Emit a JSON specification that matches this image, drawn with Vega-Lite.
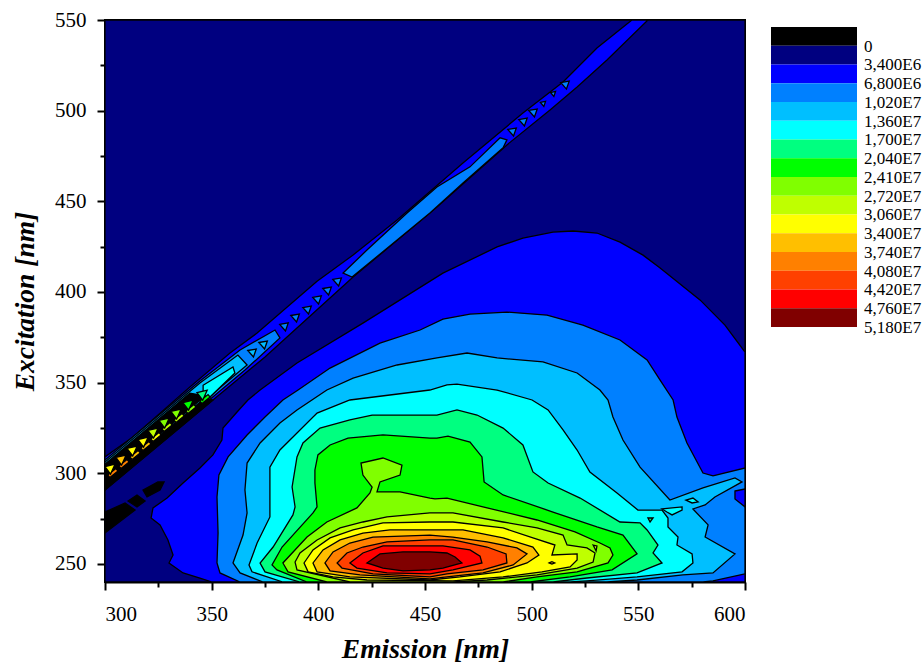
{"$schema":"https://vega.github.io/schema/vega-lite/v6.json","background":"white","padding":{"left":10,"top":8,"right":0,"bottom":0},"bounds":"flush","spacing":26,"config":{"font":"Liberation Serif","view":{"continuousWidth":640}},"hconcat":[{"width":640,"height":562,"view":{"stroke":"#000","strokeWidth":2,"fill":null},"data":{"values":[
{"p":0,"level":"3,400E6","em":300,"ex":240},{"p":0,"level":"3,400E6","em":600,"ex":240},{"p":0,"level":"3,400E6","em":600,"ex":550},{"p":0,"level":"3,400E6","em":300,"ex":550},
{"p":1,"level":"6,800E6","em":350.2,"ex":240},{"p":1,"level":"6,800E6","em":344.5,"ex":242.2},{"p":1,"level":"6,800E6","em":336.6,"ex":245},{"p":1,"level":"6,800E6","em":330,"ex":250.5},{"p":1,"level":"6,800E6","em":331.9,"ex":254.9},{"p":1,"level":"6,800E6","em":329.5,"ex":263.2},{"p":1,"level":"6,800E6","em":325.8,"ex":271.5},{"p":1,"level":"6,800E6","em":321.6,"ex":275.3},{"p":1,"level":"6,800E6","em":322.5,"ex":280.9},{"p":1,"level":"6,800E6","em":329.1,"ex":286.3},{"p":1,"level":"6,800E6","em":336.6,"ex":294.6},{"p":1,"level":"6,800E6","em":344.5,"ex":302.9},{"p":1,"level":"6,800E6","em":350.6,"ex":310.1},{"p":1,"level":"6,800E6","em":354.8,"ex":318.3},{"p":1,"level":"6,800E6","em":355.3,"ex":324.9},{"p":1,"level":"6,800E6","em":361.9,"ex":333.8},{"p":1,"level":"6,800E6","em":367,"ex":340.4},{"p":1,"level":"6,800E6","em":372.7,"ex":345.9},{"p":1,"level":"6,800E6","em":390,"ex":360.8},{"p":1,"level":"6,800E6","em":420.9,"ex":382.8},{"p":1,"level":"6,800E6","em":458.4,"ex":410.4},{"p":1,"level":"6,800E6","em":483.8,"ex":424.8},{"p":1,"level":"6,800E6","em":495.9,"ex":429.7},{"p":1,"level":"6,800E6","em":510,"ex":433},{"p":1,"level":"6,800E6","em":519.4,"ex":433.6},{"p":1,"level":"6,800E6","em":530.6,"ex":432.5},{"p":1,"level":"6,800E6","em":541.4,"ex":427.5},{"p":1,"level":"6,800E6","em":552.2,"ex":420.3},{"p":1,"level":"6,800E6","em":560.2,"ex":413.2},{"p":1,"level":"6,800E6","em":578.9,"ex":395.6},{"p":1,"level":"6,800E6","em":590.6,"ex":381.7},{"p":1,"level":"6,800E6","em":600,"ex":366.8},{"p":1,"level":"6,800E6","em":600,"ex":240},
{"p":2,"level":"6,800E6","em":300,"ex":290.8},{"p":2,"level":"6,800E6","em":350.6,"ex":340.4},{"p":2,"level":"6,800E6","em":375,"ex":364.1},{"p":2,"level":"6,800E6","em":416.3,"ex":408.2},{"p":2,"level":"6,800E6","em":455.6,"ex":446.8},{"p":2,"level":"6,800E6","em":488.4,"ex":481.1},{"p":2,"level":"6,800E6","em":508.6,"ex":500.4},{"p":2,"level":"6,800E6","em":521.3,"ex":513},{"p":2,"level":"6,800E6","em":535.3,"ex":527.9},{"p":2,"level":"6,800E6","em":554.5,"ex":550},{"p":2,"level":"6,800E6","em":547,"ex":550},{"p":2,"level":"6,800E6","em":530.6,"ex":534.6},{"p":2,"level":"6,800E6","em":514.7,"ex":515.8},{"p":2,"level":"6,800E6","em":495.9,"ex":498.7},{"p":2,"level":"6,800E6","em":467.8,"ex":471.1},{"p":2,"level":"6,800E6","em":436.9,"ex":439.7},{"p":2,"level":"6,800E6","em":416.3,"ex":420.4},{"p":2,"level":"6,800E6","em":399.4,"ex":405.9},{"p":2,"level":"6,800E6","em":371.3,"ex":377.3},{"p":2,"level":"6,800E6","em":358.6,"ex":366.3},{"p":2,"level":"6,800E6","em":339.8,"ex":347.6},{"p":2,"level":"6,800E6","em":313.1,"ex":320},{"p":2,"level":"6,800E6","em":300,"ex":309},
{"p":3,"level":"1,020E7","em":411.6,"ex":410.4},{"p":3,"level":"1,020E7","em":422.8,"ex":423.1},{"p":3,"level":"1,020E7","em":441.6,"ex":443.5},{"p":3,"level":"1,020E7","em":455.6,"ex":457.9},{"p":3,"level":"1,020E7","em":471.1,"ex":469},{"p":3,"level":"1,020E7","em":485.2,"ex":485},{"p":3,"level":"1,020E7","em":488.4,"ex":483.9},{"p":3,"level":"1,020E7","em":486.6,"ex":479.5},{"p":3,"level":"1,020E7","em":467.8,"ex":460.1},{"p":3,"level":"1,020E7","em":452.3,"ex":443.5},{"p":3,"level":"1,020E7","em":415.8,"ex":408.2},
{"p":4,"level":"1,020E7","em":513.6,"ex":515.5},{"p":4,"level":"1,020E7","em":517.6,"ex":516.3},{"p":4,"level":"1,020E7","em":516.3,"ex":511.9},
{"p":5,"level":"1,020E7","em":508.8,"ex":510},{"p":5,"level":"1,020E7","em":511.2,"ex":510.6},{"p":5,"level":"1,020E7","em":510.4,"ex":507.8},
{"p":6,"level":"1,020E7","em":504.1,"ex":504.5},{"p":6,"level":"1,020E7","em":506.5,"ex":505.1},{"p":6,"level":"1,020E7","em":505.7,"ex":502.3},
{"p":7,"level":"1,020E7","em":498.6,"ex":500.1},{"p":7,"level":"1,020E7","em":502.6,"ex":500.9},{"p":7,"level":"1,020E7","em":501.3,"ex":496.5},
{"p":8,"level":"1,020E7","em":493.9,"ex":495.1},{"p":8,"level":"1,020E7","em":497.9,"ex":495.9},{"p":8,"level":"1,020E7","em":496.6,"ex":491.5},
{"p":9,"level":"1,020E7","em":488.8,"ex":489.6},{"p":9,"level":"1,020E7","em":492.8,"ex":490.4},{"p":9,"level":"1,020E7","em":491.5,"ex":486},
{"p":10,"level":"1,020E7","em":406.8,"ex":406.9},{"p":10,"level":"1,020E7","em":410.8,"ex":407.7},{"p":10,"level":"1,020E7","em":409.5,"ex":403.3},
{"p":11,"level":"1,020E7","em":402.1,"ex":401.9},{"p":11,"level":"1,020E7","em":406.1,"ex":402.7},{"p":11,"level":"1,020E7","em":404.8,"ex":398.3},
{"p":12,"level":"1,020E7","em":397.4,"ex":397},{"p":12,"level":"1,020E7","em":401.4,"ex":397.8},{"p":12,"level":"1,020E7","em":400.1,"ex":393.4},
{"p":13,"level":"1,020E7","em":392.7,"ex":391.4},{"p":13,"level":"1,020E7","em":396.7,"ex":392.2},{"p":13,"level":"1,020E7","em":395.4,"ex":387.8},
{"p":14,"level":"1,020E7","em":387.1,"ex":387},{"p":14,"level":"1,020E7","em":391.1,"ex":387.8},{"p":14,"level":"1,020E7","em":389.8,"ex":383.4},
{"p":15,"level":"1,020E7","em":381.9,"ex":382.1},{"p":15,"level":"1,020E7","em":385.9,"ex":382.9},{"p":15,"level":"1,020E7","em":384.6,"ex":378.5},
{"p":16,"level":"1,020E7","em":300,"ex":307.3},{"p":16,"level":"1,020E7","em":344.5,"ex":350.9},{"p":16,"level":"1,020E7","em":363.3,"ex":368},{"p":16,"level":"1,020E7","em":379.7,"ex":379},{"p":16,"level":"1,020E7","em":382,"ex":374.6},{"p":16,"level":"1,020E7","em":365.6,"ex":356.9},{"p":16,"level":"1,020E7","em":344.5,"ex":336.1},{"p":16,"level":"1,020E7","em":300,"ex":292.4},
{"p":17,"level":"1,360E7","em":372.1,"ex":372.1},{"p":17,"level":"1,360E7","em":376.1,"ex":372.9},{"p":17,"level":"1,360E7","em":374.8,"ex":368.5},
{"p":18,"level":"1,360E7","em":366.9,"ex":367.7},{"p":18,"level":"1,360E7","em":370.9,"ex":368.5},{"p":18,"level":"1,360E7","em":369.6,"ex":364.1},
{"p":19,"level":"1,360E7","em":300,"ex":306.2},{"p":19,"level":"1,360E7","em":344.5,"ex":349.8},{"p":19,"level":"1,360E7","em":362.3,"ex":365.2},{"p":19,"level":"1,360E7","em":366.6,"ex":359.7},{"p":19,"level":"1,360E7","em":349.2,"ex":342.6},{"p":19,"level":"1,360E7","em":344.5,"ex":337.6},{"p":19,"level":"1,360E7","em":300,"ex":293.5},
{"p":20,"level":"1,700E7","em":346,"ex":348.5},{"p":20,"level":"1,700E7","em":360,"ex":358.6},{"p":20,"level":"1,700E7","em":360.9,"ex":355.3},{"p":20,"level":"1,700E7","em":349.2,"ex":342},{"p":20,"level":"1,700E7","em":346,"ex":341},
{"p":21,"level":"0","em":300,"ex":305},{"p":21,"level":"0","em":339.8,"ex":344.2},{"p":21,"level":"0","em":346.9,"ex":342.6},{"p":21,"level":"0","em":300,"ex":295.7},
{"p":22,"level":"0","em":300,"ex":290.8},{"p":22,"level":"0","em":350.6,"ex":340.4},{"p":22,"level":"0","em":346.9,"ex":341.5},{"p":22,"level":"0","em":300,"ex":295.7},
{"p":60,"level":"4,080E7","em":301.3,"ex":299},{"p":60,"level":"4,080E7","em":305.1,"ex":302.6},{"p":60,"level":"4,080E7","em":306.1,"ex":301.2},{"p":60,"level":"4,080E7","em":302.3,"ex":297.6},
{"p":61,"level":"4,080E7","em":306.5,"ex":304},{"p":61,"level":"4,080E7","em":310.3,"ex":307.6},{"p":61,"level":"4,080E7","em":311.3,"ex":306.2},{"p":61,"level":"4,080E7","em":307.5,"ex":302.6},
{"p":62,"level":"3,740E7","em":311.7,"ex":309},{"p":62,"level":"3,740E7","em":315.5,"ex":312.6},{"p":62,"level":"3,740E7","em":316.5,"ex":311.2},{"p":62,"level":"3,740E7","em":312.7,"ex":307.6},
{"p":63,"level":"3,740E7","em":316.8,"ex":313.9},{"p":63,"level":"3,740E7","em":320.6,"ex":317.5},{"p":63,"level":"3,740E7","em":321.6,"ex":316.1},{"p":63,"level":"3,740E7","em":317.8,"ex":312.5},
{"p":64,"level":"3,400E7","em":321.5,"ex":318.9},{"p":64,"level":"3,400E7","em":325.3,"ex":322.5},{"p":64,"level":"3,400E7","em":326.3,"ex":321.1},{"p":64,"level":"3,400E7","em":322.5,"ex":317.5},
{"p":65,"level":"3,060E7","em":326.7,"ex":324.4},{"p":65,"level":"3,060E7","em":330.5,"ex":328},{"p":65,"level":"3,060E7","em":331.5,"ex":326.6},{"p":65,"level":"3,060E7","em":327.7,"ex":323},
{"p":66,"level":"3,060E7","em":332.3,"ex":329.4},{"p":66,"level":"3,060E7","em":336.1,"ex":333},{"p":66,"level":"3,060E7","em":337.1,"ex":331.6},{"p":66,"level":"3,060E7","em":333.3,"ex":328},
{"p":67,"level":"2,720E7","em":337.9,"ex":334.3},{"p":67,"level":"2,720E7","em":341.7,"ex":337.9},{"p":67,"level":"2,720E7","em":342.7,"ex":336.5},{"p":67,"level":"2,720E7","em":338.9,"ex":332.9},
{"p":68,"level":"2,410E7","em":344.5,"ex":339.8},{"p":68,"level":"2,410E7","em":348.3,"ex":343.4},{"p":68,"level":"2,410E7","em":349.3,"ex":342},{"p":68,"level":"2,410E7","em":345.5,"ex":338.4},
{"p":23,"level":"3,400E7","em":300,"ex":303.7},{"p":23,"level":"3,400E7","em":304.7,"ex":305},{"p":23,"level":"3,400E7","em":302.6,"ex":299.5},
{"p":24,"level":"3,740E7","em":305.1,"ex":308.7},{"p":24,"level":"3,740E7","em":309.9,"ex":310},{"p":24,"level":"3,740E7","em":307.8,"ex":304.5},
{"p":25,"level":"3,400E7","em":310.3,"ex":313.7},{"p":25,"level":"3,400E7","em":315.1,"ex":315},{"p":25,"level":"3,400E7","em":313,"ex":309.5},
{"p":26,"level":"3,400E7","em":315.4,"ex":318.6},{"p":26,"level":"3,400E7","em":320.2,"ex":319.9},{"p":26,"level":"3,400E7","em":318.1,"ex":314.4},
{"p":27,"level":"3,060E7","em":320.1,"ex":323.6},{"p":27,"level":"3,060E7","em":324.9,"ex":324.9},{"p":27,"level":"3,060E7","em":322.8,"ex":319.4},
{"p":28,"level":"2,720E7","em":325.3,"ex":329.1},{"p":28,"level":"2,720E7","em":330.1,"ex":330.4},{"p":28,"level":"2,720E7","em":328,"ex":324.9},
{"p":29,"level":"2,720E7","em":330.9,"ex":334.1},{"p":29,"level":"2,720E7","em":335.7,"ex":335.4},{"p":29,"level":"2,720E7","em":333.6,"ex":329.9},
{"p":30,"level":"2,410E7","em":336.5,"ex":339},{"p":30,"level":"2,410E7","em":341.3,"ex":340.3},{"p":30,"level":"2,410E7","em":339.2,"ex":334.8},
{"p":31,"level":"2,040E7","em":343.1,"ex":344.5},{"p":31,"level":"2,040E7","em":347.9,"ex":345.8},{"p":31,"level":"2,040E7","em":345.8,"ex":340.3},
{"p":32,"level":"0","em":300,"ex":278.6},{"p":32,"level":"0","em":309.4,"ex":283.6},{"p":32,"level":"0","em":314.1,"ex":279.7},{"p":32,"level":"0","em":300,"ex":267},
{"p":33,"level":"0","em":310.8,"ex":284.7},{"p":33,"level":"0","em":315,"ex":288},{"p":33,"level":"0","em":318.8,"ex":284.7},{"p":33,"level":"0","em":315,"ex":281.4},
{"p":34,"level":"0","em":317.8,"ex":290.7},{"p":34,"level":"0","em":324.8,"ex":295.2},{"p":34,"level":"0","em":327.7,"ex":295.2},{"p":34,"level":"0","em":325.8,"ex":290.7},{"p":34,"level":"0","em":319.7,"ex":286.9},
{"p":35,"level":"1,020E7","em":363.3,"ex":240},{"p":35,"level":"1,020E7","em":353.9,"ex":245},{"p":35,"level":"1,020E7","em":352.5,"ex":250.5},{"p":35,"level":"1,020E7","em":353,"ex":267},{"p":35,"level":"1,020E7","em":352.5,"ex":286.9},{"p":35,"level":"1,020E7","em":353.4,"ex":299},{"p":35,"level":"1,020E7","em":357.7,"ex":309},{"p":35,"level":"1,020E7","em":366.6,"ex":321.1},{"p":35,"level":"1,020E7","em":375,"ex":331},{"p":35,"level":"1,020E7","em":383.4,"ex":340.4},{"p":35,"level":"1,020E7","em":390.5,"ex":345.9},{"p":35,"level":"1,020E7","em":405.5,"ex":358},{"p":35,"level":"1,020E7","em":428.9,"ex":371.8},{"p":35,"level":"1,020E7","em":447.7,"ex":379},{"p":35,"level":"1,020E7","em":458.4,"ex":385},{"p":35,"level":"1,020E7","em":471.1,"ex":387.8},{"p":35,"level":"1,020E7","em":488.4,"ex":388.9},{"p":35,"level":"1,020E7","em":507.2,"ex":387.2},{"p":35,"level":"1,020E7","em":524,"ex":381.7},{"p":35,"level":"1,020E7","em":541.4,"ex":373.5},{"p":35,"level":"1,020E7","em":554.1,"ex":362.5},{"p":35,"level":"1,020E7","em":560.2,"ex":351.4},{"p":35,"level":"1,020E7","em":566.3,"ex":340.4},{"p":35,"level":"1,020E7","em":568.1,"ex":331},{"p":35,"level":"1,020E7","em":572.8,"ex":316.7},{"p":35,"level":"1,020E7","em":580.3,"ex":300.1},{"p":35,"level":"1,020E7","em":585,"ex":298.5},{"p":35,"level":"1,020E7","em":600,"ex":302.9},{"p":35,"level":"1,020E7","em":600,"ex":244.5},{"p":35,"level":"1,020E7","em":585,"ex":240.6},{"p":35,"level":"1,020E7","em":580.3,"ex":240},
{"p":36,"level":"6,800E6","em":595.3,"ex":290.2},{"p":36,"level":"6,800E6","em":600,"ex":291.3},{"p":36,"level":"6,800E6","em":600,"ex":281.4},{"p":36,"level":"6,800E6","em":595.3,"ex":285.8},
{"p":37,"level":"1,360E7","em":374.1,"ex":240},{"p":37,"level":"1,360E7","em":363.3,"ex":245},{"p":37,"level":"1,360E7","em":360,"ex":250.5},{"p":37,"level":"1,360E7","em":364.7,"ex":265.9},{"p":37,"level":"1,360E7","em":366.6,"ex":278.1},{"p":37,"level":"1,360E7","em":365.6,"ex":290.8},{"p":37,"level":"1,360E7","em":366.6,"ex":305.6},{"p":37,"level":"1,360E7","em":372.7,"ex":316.7},{"p":37,"level":"1,360E7","em":382,"ex":327.7},{"p":37,"level":"1,360E7","em":390,"ex":334.9},{"p":37,"level":"1,360E7","em":397,"ex":340.4},{"p":37,"level":"1,360E7","em":404,"ex":345.9},{"p":37,"level":"1,360E7","em":416.3,"ex":352.5},{"p":37,"level":"1,360E7","em":436.9,"ex":359.7},{"p":37,"level":"1,360E7","em":455.6,"ex":363.6},{"p":37,"level":"1,360E7","em":469.7,"ex":366.3},{"p":37,"level":"1,360E7","em":483.8,"ex":363.6},{"p":37,"level":"1,360E7","em":505.3,"ex":361.4},{"p":37,"level":"1,360E7","em":521.3,"ex":355.3},{"p":37,"level":"1,360E7","em":532,"ex":345.9},{"p":37,"level":"1,360E7","em":535.8,"ex":340.4},{"p":37,"level":"1,360E7","em":538.1,"ex":331},{"p":37,"level":"1,360E7","em":542.8,"ex":318.3},{"p":37,"level":"1,360E7","em":550.8,"ex":303.4},{"p":37,"level":"1,360E7","em":564.8,"ex":285.2},{"p":37,"level":"1,360E7","em":580.3,"ex":291.9},{"p":37,"level":"1,360E7","em":595.3,"ex":297.4},{"p":37,"level":"1,360E7","em":598.6,"ex":295.2},{"p":37,"level":"1,360E7","em":585.9,"ex":286.9},{"p":37,"level":"1,360E7","em":581.3,"ex":282.5},{"p":37,"level":"1,360E7","em":575.6,"ex":280.3},{"p":37,"level":"1,360E7","em":582.7,"ex":271.5},{"p":37,"level":"1,360E7","em":581.3,"ex":264.8},{"p":37,"level":"1,360E7","em":595.3,"ex":255.5},{"p":37,"level":"1,360E7","em":585,"ex":245},{"p":37,"level":"1,360E7","em":570.9,"ex":243.9},{"p":37,"level":"1,360E7","em":549.4,"ex":241.1},{"p":37,"level":"1,360E7","em":535.3,"ex":240},
{"p":38,"level":"1,700E7","em":383.4,"ex":240},{"p":38,"level":"1,700E7","em":368.9,"ex":245.6},{"p":38,"level":"1,700E7","em":367.5,"ex":249.4},{"p":38,"level":"1,700E7","em":371.3,"ex":261.5},{"p":38,"level":"1,700E7","em":377.3,"ex":275.9},{"p":38,"level":"1,700E7","em":377.3,"ex":290.8},{"p":38,"level":"1,700E7","em":377.3,"ex":303.4},{"p":38,"level":"1,700E7","em":382,"ex":312.8},{"p":38,"level":"1,700E7","em":390,"ex":322.2},{"p":38,"level":"1,700E7","em":399.4,"ex":333.2},{"p":38,"level":"1,700E7","em":414.8,"ex":340.4},{"p":38,"level":"1,700E7","em":452.3,"ex":345.9},{"p":38,"level":"1,700E7","em":460.3,"ex":348.7},{"p":38,"level":"1,700E7","em":465,"ex":349.2},{"p":38,"level":"1,700E7","em":483.8,"ex":345.9},{"p":38,"level":"1,700E7","em":500.2,"ex":340.4},{"p":38,"level":"1,700E7","em":507.7,"ex":334.9},{"p":38,"level":"1,700E7","em":514.7,"ex":323.9},{"p":38,"level":"1,700E7","em":521.3,"ex":312.8},{"p":38,"level":"1,700E7","em":527.3,"ex":300.7},{"p":38,"level":"1,700E7","em":540,"ex":289.1},{"p":38,"level":"1,700E7","em":549.8,"ex":279.7},{"p":38,"level":"1,700E7","em":561.1,"ex":279.7},{"p":38,"level":"1,700E7","em":563.9,"ex":275.3},{"p":38,"level":"1,700E7","em":563.9,"ex":270.4},{"p":38,"level":"1,700E7","em":568.6,"ex":264.8},{"p":38,"level":"1,700E7","em":568.1,"ex":260.4},{"p":38,"level":"1,700E7","em":575.2,"ex":255.5},{"p":38,"level":"1,700E7","em":575.6,"ex":250.5},{"p":38,"level":"1,700E7","em":570.5,"ex":245.6},{"p":38,"level":"1,700E7","em":549.4,"ex":242.8},{"p":38,"level":"1,700E7","em":525.9,"ex":240.6},{"p":38,"level":"1,700E7","em":518,"ex":240},
{"p":39,"level":"1,700E7","em":561.1,"ex":280.3},{"p":39,"level":"1,700E7","em":570.5,"ex":281.4},{"p":39,"level":"1,700E7","em":570.5,"ex":279.7},{"p":39,"level":"1,700E7","em":565.8,"ex":277},{"p":39,"level":"1,700E7","em":563.4,"ex":278.6},
{"p":40,"level":"1,700E7","em":572.3,"ex":285.2},{"p":40,"level":"1,700E7","em":575.6,"ex":286.3},{"p":40,"level":"1,700E7","em":578,"ex":284.2},{"p":40,"level":"1,700E7","em":575.2,"ex":283.6},
{"p":41,"level":"2,040E7","em":391.4,"ex":240},{"p":41,"level":"2,040E7","em":375,"ex":245.6},{"p":41,"level":"2,040E7","em":372.7,"ex":250.5},{"p":41,"level":"2,040E7","em":378.8,"ex":259.3},{"p":41,"level":"2,040E7","em":388.1,"ex":277},{"p":41,"level":"2,040E7","em":389.1,"ex":281.4},{"p":41,"level":"2,040E7","em":387.7,"ex":292.4},{"p":41,"level":"2,040E7","em":390,"ex":309},{"p":41,"level":"2,040E7","em":392.8,"ex":316.7},{"p":41,"level":"2,040E7","em":400.8,"ex":324.9},{"p":41,"level":"2,040E7","em":414.8,"ex":329.4},{"p":41,"level":"2,040E7","em":425.2,"ex":332.1},{"p":41,"level":"2,040E7","em":452.3,"ex":332.1},{"p":41,"level":"2,040E7","em":455.6,"ex":332.1},{"p":41,"level":"2,040E7","em":465,"ex":334.9},{"p":41,"level":"2,040E7","em":474.4,"ex":332.1},{"p":41,"level":"2,040E7","em":486.6,"ex":324.9},{"p":41,"level":"2,040E7","em":495.9,"ex":315.6},{"p":41,"level":"2,040E7","em":500.6,"ex":300.7},{"p":41,"level":"2,040E7","em":507.7,"ex":294.6},{"p":41,"level":"2,040E7","em":522.7,"ex":286.3},{"p":41,"level":"2,040E7","em":541.4,"ex":273.1},{"p":41,"level":"2,040E7","em":550.8,"ex":272.6},{"p":41,"level":"2,040E7","em":554.1,"ex":268.7},{"p":41,"level":"2,040E7","em":559.2,"ex":260.4},{"p":41,"level":"2,040E7","em":556.9,"ex":256},{"p":41,"level":"2,040E7","em":561.1,"ex":250.5},{"p":41,"level":"2,040E7","em":549.4,"ex":245},{"p":41,"level":"2,040E7","em":525.9,"ex":242.2},{"p":41,"level":"2,040E7","em":510,"ex":240},
{"p":42,"level":"2,040E7","em":554.5,"ex":275.3},{"p":42,"level":"2,040E7","em":556.9,"ex":275.3},{"p":42,"level":"2,040E7","em":555.5,"ex":273.1},
{"p":43,"level":"2,410E7","em":394.7,"ex":240},{"p":43,"level":"2,410E7","em":380.6,"ex":246.7},{"p":43,"level":"2,410E7","em":378.3,"ex":249.4},{"p":43,"level":"2,410E7","em":383,"ex":259.3},{"p":43,"level":"2,410E7","em":397.5,"ex":278.1},{"p":43,"level":"2,410E7","em":399.4,"ex":281.4},{"p":43,"level":"2,410E7","em":398.4,"ex":294.6},{"p":43,"level":"2,410E7","em":398.4,"ex":301.8},{"p":43,"level":"2,410E7","em":399.8,"ex":310.1},{"p":43,"level":"2,410E7","em":405.5,"ex":315.6},{"p":43,"level":"2,410E7","em":413.9,"ex":319.4},{"p":43,"level":"2,410E7","em":430.3,"ex":321.1},{"p":43,"level":"2,410E7","em":452.3,"ex":319.4},{"p":43,"level":"2,410E7","em":455.6,"ex":319.4},{"p":43,"level":"2,410E7","em":460.8,"ex":320.5},{"p":43,"level":"2,410E7","em":471.1,"ex":317.2},{"p":43,"level":"2,410E7","em":476.7,"ex":309},{"p":43,"level":"2,410E7","em":477.7,"ex":295.2},{"p":43,"level":"2,410E7","em":486.6,"ex":288},{"p":43,"level":"2,410E7","em":510,"ex":278.6},{"p":43,"level":"2,410E7","em":530.6,"ex":270.4},{"p":43,"level":"2,410E7","em":542.8,"ex":265.9},{"p":43,"level":"2,410E7","em":549.4,"ex":255.5},{"p":43,"level":"2,410E7","em":537.7,"ex":246.7},{"p":43,"level":"2,410E7","em":518,"ex":242.8},{"p":43,"level":"2,410E7","em":499.2,"ex":240},
{"p":44,"level":"2,720E7","em":404,"ex":240},{"p":44,"level":"2,720E7","em":385.8,"ex":245.6},{"p":44,"level":"2,720E7","em":383.4,"ex":250.5},{"p":44,"level":"2,720E7","em":394.7,"ex":264.8},{"p":44,"level":"2,720E7","em":404,"ex":273.1},{"p":44,"level":"2,720E7","em":418.1,"ex":280.9},{"p":44,"level":"2,720E7","em":424.2,"ex":289.1},{"p":44,"level":"2,720E7","em":425.2,"ex":292.4},{"p":44,"level":"2,720E7","em":420.9,"ex":299},{"p":44,"level":"2,720E7","em":420,"ex":305.6},{"p":44,"level":"2,720E7","em":430.3,"ex":308.4},{"p":44,"level":"2,720E7","em":439.2,"ex":304.5},{"p":44,"level":"2,720E7","em":438.3,"ex":299},{"p":44,"level":"2,720E7","em":428.9,"ex":295.2},{"p":44,"level":"2,720E7","em":427.5,"ex":289.7},{"p":44,"level":"2,720E7","em":438.3,"ex":289.7},{"p":44,"level":"2,720E7","em":452.3,"ex":286.3},{"p":44,"level":"2,720E7","em":454.7,"ex":285.8},{"p":44,"level":"2,720E7","em":460.3,"ex":286.3},{"p":44,"level":"2,720E7","em":479.1,"ex":280.9},{"p":44,"level":"2,720E7","em":502.5,"ex":274.2},{"p":44,"level":"2,720E7","em":520.3,"ex":267.6},{"p":44,"level":"2,720E7","em":532,"ex":261.5},{"p":44,"level":"2,720E7","em":536.7,"ex":258.8},{"p":44,"level":"2,720E7","em":538.1,"ex":254.9},{"p":44,"level":"2,720E7","em":535.8,"ex":250.5},{"p":44,"level":"2,720E7","em":521.3,"ex":245.6},{"p":44,"level":"2,720E7","em":502.5,"ex":242.8},{"p":44,"level":"2,720E7","em":486.6,"ex":240},
{"p":45,"level":"3,060E7","em":414.8,"ex":240},{"p":45,"level":"3,060E7","em":390,"ex":246.7},{"p":45,"level":"3,060E7","em":389.1,"ex":251},{"p":45,"level":"3,060E7","em":391.4,"ex":256},{"p":45,"level":"3,060E7","em":399.4,"ex":263.2},{"p":45,"level":"3,060E7","em":410.2,"ex":269.8},{"p":45,"level":"3,060E7","em":420.9,"ex":273.1},{"p":45,"level":"3,060E7","em":432.2,"ex":275.9},{"p":45,"level":"3,060E7","em":452.3,"ex":278.1},{"p":45,"level":"3,060E7","em":463.1,"ex":278.1},{"p":45,"level":"3,060E7","em":486.6,"ex":273.1},{"p":45,"level":"3,060E7","em":502.5,"ex":269.8},{"p":45,"level":"3,060E7","em":514.7,"ex":265.9},{"p":45,"level":"3,060E7","em":516.6,"ex":260.4},{"p":45,"level":"3,060E7","em":525.9,"ex":258.8},{"p":45,"level":"3,060E7","em":529.7,"ex":256},{"p":45,"level":"3,060E7","em":528.8,"ex":251},{"p":45,"level":"3,060E7","em":521.3,"ex":247.7},{"p":45,"level":"3,060E7","em":502.5,"ex":243.9},{"p":45,"level":"3,060E7","em":479.1,"ex":241.1},{"p":45,"level":"3,060E7","em":463.1,"ex":240},
{"p":46,"level":"3,060E7","em":528.8,"ex":260.4},{"p":46,"level":"3,060E7","em":530.6,"ex":259.9},{"p":46,"level":"3,060E7","em":530.2,"ex":257.1},
{"p":47,"level":"3,400E7","em":422.8,"ex":241.1},{"p":47,"level":"3,400E7","em":406.9,"ex":242.8},{"p":47,"level":"3,400E7","em":395.2,"ex":245.6},{"p":47,"level":"3,400E7","em":393.3,"ex":250.5},{"p":47,"level":"3,400E7","em":397.5,"ex":257.7},{"p":47,"level":"3,400E7","em":405.5,"ex":264.3},{"p":47,"level":"3,400E7","em":416.3,"ex":268.7},{"p":47,"level":"3,400E7","em":430.3,"ex":272.6},{"p":47,"level":"3,400E7","em":452.3,"ex":273.1},{"p":47,"level":"3,400E7","em":463.1,"ex":273.1},{"p":47,"level":"3,400E7","em":486.6,"ex":269.8},{"p":47,"level":"3,400E7","em":500.6,"ex":264.3},{"p":47,"level":"3,400E7","em":510.9,"ex":260.4},{"p":47,"level":"3,400E7","em":509.5,"ex":254.9},{"p":47,"level":"3,400E7","em":521.3,"ex":255.5},{"p":47,"level":"3,400E7","em":521.3,"ex":252.2},{"p":47,"level":"3,400E7","em":518,"ex":248.3},{"p":47,"level":"3,400E7","em":504.8,"ex":245.6},{"p":47,"level":"3,400E7","em":486.6,"ex":242.8},{"p":47,"level":"3,400E7","em":463.1,"ex":240.6},
{"p":48,"level":"3,740E7","em":508.2,"ex":250.5},{"p":48,"level":"3,740E7","em":509.5,"ex":251.2},{"p":48,"level":"3,740E7","em":510.8,"ex":250.5},{"p":48,"level":"3,740E7","em":509.5,"ex":249.9},
{"p":49,"level":"3,740E7","em":452.3,"ex":241.1},{"p":49,"level":"3,740E7","em":414.8,"ex":242.8},{"p":49,"level":"3,740E7","em":399.4,"ex":245.6},{"p":49,"level":"3,740E7","em":397.5,"ex":250.5},{"p":49,"level":"3,740E7","em":402.2,"ex":257.7},{"p":49,"level":"3,740E7","em":410.2,"ex":263.2},{"p":49,"level":"3,740E7","em":420.9,"ex":267},{"p":49,"level":"3,740E7","em":433.6,"ex":268.7},{"p":49,"level":"3,740E7","em":452.3,"ex":268.7},{"p":49,"level":"3,740E7","em":467.8,"ex":268.7},{"p":49,"level":"3,740E7","em":486.6,"ex":264.3},{"p":49,"level":"3,740E7","em":500.6,"ex":259.3},{"p":49,"level":"3,740E7","em":503.4,"ex":254.9},{"p":49,"level":"3,740E7","em":497.8,"ex":250.5},{"p":49,"level":"3,740E7","em":485.2,"ex":245.6},{"p":49,"level":"3,740E7","em":466.4,"ex":242.8},
{"p":50,"level":"4,080E7","em":452.3,"ex":241.7},{"p":50,"level":"4,080E7","em":419.5,"ex":243.9},{"p":50,"level":"4,080E7","em":405.5,"ex":246.1},{"p":50,"level":"4,080E7","em":403.1,"ex":250.5},{"p":50,"level":"4,080E7","em":406.9,"ex":256.6},{"p":50,"level":"4,080E7","em":414.8,"ex":261.5},{"p":50,"level":"4,080E7","em":425.6,"ex":264.8},{"p":50,"level":"4,080E7","em":452.3,"ex":265.9},{"p":50,"level":"4,080E7","em":463.1,"ex":264.8},{"p":50,"level":"4,080E7","em":479.1,"ex":262.1},{"p":50,"level":"4,080E7","em":493.1,"ex":258.8},{"p":50,"level":"4,080E7","em":497.8,"ex":255.5},{"p":50,"level":"4,080E7","em":491.3,"ex":249.4},{"p":50,"level":"4,080E7","em":477.2,"ex":245},{"p":50,"level":"4,080E7","em":460.3,"ex":242.8},
{"p":51,"level":"4,420E7","em":452.3,"ex":242.8},{"p":51,"level":"4,420E7","em":425.6,"ex":244.5},{"p":51,"level":"4,420E7","em":411.1,"ex":247.7},{"p":51,"level":"4,420E7","em":408.8,"ex":250.5},{"p":51,"level":"4,420E7","em":413.4,"ex":256},{"p":51,"level":"4,420E7","em":420.9,"ex":259.3},{"p":51,"level":"4,420E7","em":432.2,"ex":262.1},{"p":51,"level":"4,420E7","em":452.3,"ex":263.2},{"p":51,"level":"4,420E7","em":463.1,"ex":263.2},{"p":51,"level":"4,420E7","em":479.1,"ex":259.3},{"p":51,"level":"4,420E7","em":488,"ex":255.5},{"p":51,"level":"4,420E7","em":488.4,"ex":250.5},{"p":51,"level":"4,420E7","em":477.2,"ex":246.7},{"p":51,"level":"4,420E7","em":460.3,"ex":244.5},
{"p":52,"level":"4,760E7","em":452.3,"ex":244.5},{"p":52,"level":"4,760E7","em":432.2,"ex":245},{"p":52,"level":"4,760E7","em":418.1,"ex":247.7},{"p":52,"level":"4,760E7","em":414.8,"ex":250.5},{"p":52,"level":"4,760E7","em":420.9,"ex":256},{"p":52,"level":"4,760E7","em":430.3,"ex":259.9},{"p":52,"level":"4,760E7","em":452.3,"ex":259.9},{"p":52,"level":"4,760E7","em":458.4,"ex":259.9},{"p":52,"level":"4,760E7","em":471.1,"ex":257.7},{"p":52,"level":"4,760E7","em":475.8,"ex":254.3},{"p":52,"level":"4,760E7","em":476.7,"ex":250.5},{"p":52,"level":"4,760E7","em":463.1,"ex":246.7},
{"p":53,"level":"5,180E7","em":452.3,"ex":246.7},{"p":53,"level":"5,180E7","em":439.7,"ex":246.1},{"p":53,"level":"5,180E7","em":430.3,"ex":247.7},{"p":53,"level":"5,180E7","em":422.8,"ex":250.5},{"p":53,"level":"5,180E7","em":428.9,"ex":255.5},{"p":53,"level":"5,180E7","em":439.7,"ex":256.6},{"p":53,"level":"5,180E7","em":452.3,"ex":256.6},{"p":53,"level":"5,180E7","em":460.3,"ex":256},{"p":53,"level":"5,180E7","em":464.1,"ex":253.8},{"p":53,"level":"5,180E7","em":467.3,"ex":250.5},{"p":53,"level":"5,180E7","em":458.4,"ex":247.7}
]},"mark":{"type":"line","interpolate":"linear-closed","stroke":"#000","strokeWidth":1.3,"clip":true},"encoding":{"x":{"field":"em","type":"quantitative","scale":{"domain":[300,600],"nice":false,"zero":false},"axis":{"title":"Emission [nm]","grid":false,"values":[300,325,350,375,400,425,450,475,500,525,550,575,600],"labelExpr":"datum.value%50==0?datum.label:''","labelOverlap":false,"labelFont":"Liberation Serif","labelFontSize":21,"labelColor":"#000","labelPadding":13,"tickColor":"#000","tickWidth":2,"tickSize":{"condition":{"test":"datum.value%50==0","value":8},"value":5},"domainColor":"#000","domainWidth":2,"titleFont":"Liberation Serif","titleFontSize":27.5,"titleFontStyle":"italic","titleFontWeight":"bold","titleColor":"#000","titlePadding":11}},"y":{"field":"ex","type":"quantitative","scale":{"domain":[240,550],"nice":false,"zero":false},"axis":{"title":"Excitation [nm]","grid":false,"values":[250,275,300,325,350,375,400,425,450,475,500,525,550],"labelExpr":"datum.value%50==0?datum.label:''","labelOverlap":false,"labelFont":"Liberation Serif","labelFontSize":21,"labelColor":"#000","labelPadding":11,"tickColor":"#000","tickWidth":2,"tickSize":{"condition":{"test":"datum.value%50==0","value":8},"value":5},"domainColor":"#000","domainWidth":2,"titleFont":"Liberation Serif","titleFontSize":27.5,"titleFontStyle":"italic","titleFontWeight":"bold","titleColor":"#000","titlePadding":15}},"fill":{"field":"level","type":"nominal","legend":null,"scale":{"domain":["0","3,400E6","6,800E6","1,020E7","1,360E7","1,700E7","2,040E7","2,410E7","2,720E7","3,060E7","3,400E7","3,740E7","4,080E7","4,420E7","4,760E7","5,180E7"],"range":["#000000","#000080","#0000ff","#0080ff","#00bfff","#00ffff","#00ff80","#00ff00","#80ff00","#bfff00","#ffff00","#ffbf00","#ff8000","#ff4000","#ff0000","#800000"]}},"detail":{"field":"p"},"order":{"value":null}}},
{"width":152,"height":562,"view":{"stroke":null},"data":{"values":[{"level":"0","s":0,"e":1},{"level":"3,400E6","s":1,"e":2},{"level":"6,800E6","s":2,"e":3},{"level":"1,020E7","s":3,"e":4},{"level":"1,360E7","s":4,"e":5},{"level":"1,700E7","s":5,"e":6},{"level":"2,040E7","s":6,"e":7},{"level":"2,410E7","s":7,"e":8},{"level":"2,720E7","s":8,"e":9},{"level":"3,060E7","s":9,"e":10},{"level":"3,400E7","s":10,"e":11},{"level":"3,740E7","s":11,"e":12},{"level":"4,080E7","s":12,"e":13},{"level":"4,420E7","s":13,"e":14},{"level":"4,760E7","s":14,"e":15},{"level":"5,180E7","s":15,"e":16}]},"layer":[{"mark":{"type":"rect"},"encoding":{"x":{"datum":0,"type":"quantitative","scale":{"domain":[0,152],"nice":false,"zero":false},"axis":null},"x2":{"datum":86},"y":{"field":"s","type":"quantitative","scale":{"domain":[-0.37,29.6],"reverse":true,"nice":false,"zero":false},"axis":null},"y2":{"field":"e"},"fill":{"field":"level","type":"nominal","legend":null,"scale":{"domain":["0","3,400E6","6,800E6","1,020E7","1,360E7","1,700E7","2,040E7","2,410E7","2,720E7","3,060E7","3,400E7","3,740E7","4,080E7","4,420E7","4,760E7","5,180E7"],"range":["#000000","#000080","#0000ff","#0080ff","#00bfff","#00ffff","#00ff80","#00ff00","#80ff00","#bfff00","#ffff00","#ffbf00","#ff8000","#ff4000","#ff0000","#800000"]}}}},{"mark":{"type":"text","align":"left","baseline":"middle","font":"Liberation Serif","fontSize":17,"color":"#000","dy":1},"encoding":{"x":{"datum":93,"type":"quantitative"},"y":{"field":"e","type":"quantitative"},"text":{"field":"level"}}}]}
]}
